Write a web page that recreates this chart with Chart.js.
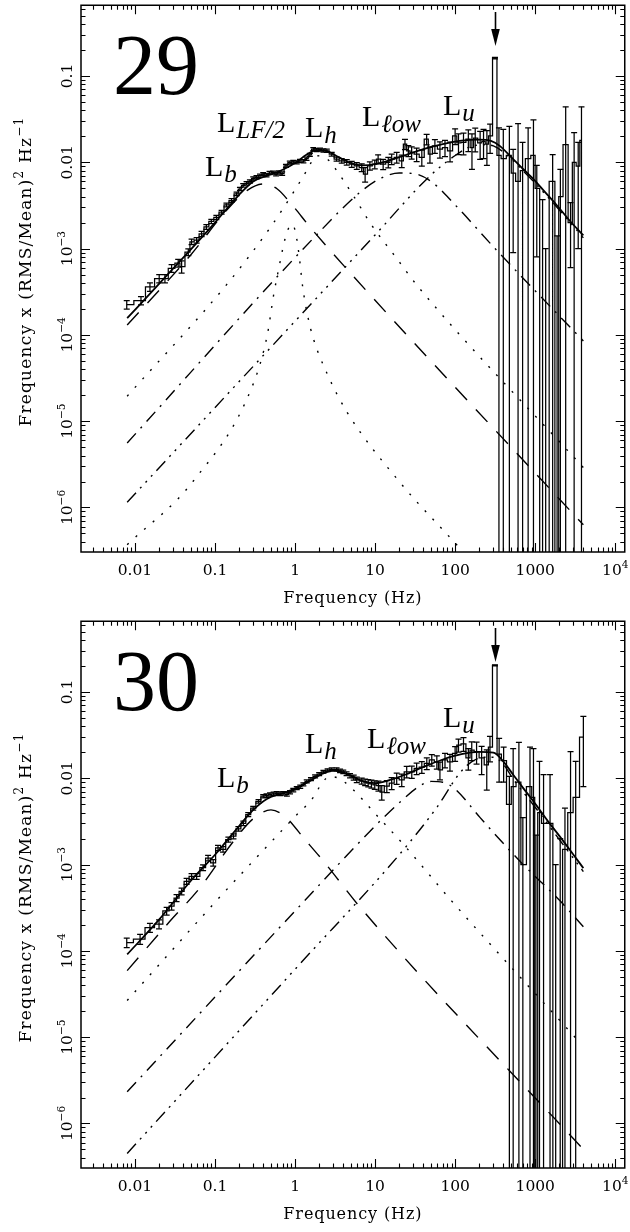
<!DOCTYPE html>
<html>
<head>
<meta charset="utf-8">
<script src="https://cdn.jsdelivr.net/npm/chart.js@4.4.1/dist/chart.umd.min.js"></script>
<style>
  html, body { margin: 0; padding: 0; background: #fff; }
  .panel { position: relative; width: 630px; height: 616px; }
  canvas { display: block; }
</style>
</head>
<body>
<div class="panel"><canvas id="c29" width="630" height="616"></canvas></div>
<div class="panel"><canvas id="c30" width="630" height="616"></canvas></div>
<script>
// ---------------- observation 29 : binned power spectrum ----------------
const freq29 = [
  0.0079, 0.0119, 0.0154, 0.0201, 0.0237, 0.0287, 0.0347, 0.0383, 0.0464, 0.051,
  0.059, 0.068, 0.078, 0.090, 0.104, 0.121, 0.139, 0.161, 0.186, 0.205,
  0.225, 0.248, 0.273, 0.30, 0.33, 0.365, 0.40, 0.44, 0.48, 0.53,
  0.58, 0.63, 0.69, 0.77, 0.86, 0.95, 1.05, 1.15, 1.27, 1.39,
  1.53, 1.69, 1.86, 2.05, 2.26, 2.49, 2.87, 3.3, 3.83, 4.42,
  5.1, 5.9, 6.8, 7.5, 8.6, 9.9, 10.9, 12.6, 14.6, 16.1,
  18.6, 21.5, 23.6, 26, 28.6, 33, 38.3, 44, 48.4, 55.8,
  64.5, 74.6, 86.3, 99.8, 110, 127, 146, 162, 178, 205,
  226, 249, 273, 314, 352, 399, 475, 530, 610, 695,
  815, 950, 1045, 1235, 1350, 1650, 1875, 2060, 2400, 2760,
  3060, 3440, 3780];
const power29 = [
  2.24e-4, 2.5e-4, 3.6e-4, 4.5e-4, 4.5e-4, 5.9e-4, 6.8e-4, 6.2e-4, 9.1e-4, 1.2e-3,
  1.25e-3, 1.48e-3, 1.78e-3, 2.06e-3, 2.3e-3, 2.64e-3, 3.2e-3, 3.6e-3, 4.3e-3, 4.9e-3,
  5.4e-3, 5.7e-3, 6.0e-3, 6.5e-3, 6.7e-3, 7.0e-3, 7.3e-3, 7.1e-3, 7.5e-3, 7.6e-3,
  7.3e-3, 7.6e-3, 7.4e-3, 9.1e-3, 9.9e-3, 1.01e-2, 1.0e-2, 1.04e-2, 1.03e-2, 1.1e-2,
  1.22e-2, 1.42e-2, 1.38e-2, 1.4e-2, 1.37e-2, 1.36e-2, 1.24e-2, 1.09e-2, 1.04e-2, 1.0e-2,
  9.5e-3, 9.1e-3, 8.7e-3, 7.3e-3, 9.1e-3, 9.5e-3, 1.09e-2, 9.5e-3, 1.0e-2, 1.09e-2,
  1.14e-2, 1.04e-2, 1.62e-2, 1.36e-2, 1.3e-2, 1.24e-2, 1.14e-2, 1.85e-2, 1.24e-2, 1.55e-2,
  1.42e-2, 1.48e-2, 1.36e-2, 2.02e-2, 1.68e-2, 1.7e-2, 1.85e-2, 1.48e-2, 1.9e-2, 1.68e-2,
  1.75e-2, 1.62e-2, 2.02e-2, 0.161, 0.012, 0.011, 0.012, 0.0075, 0.006, 0.008,
  0.011, 0.012, 0.005, -0.001, -0.003, 0.006, -0.002, 0.004, 0.016, 0.002,
  0.010, 0.009, 0.018];
const error29 = [
  2.5e-5, 2.8e-5, 4e-5, 5e-5, 5e-5, 6e-5, 7e-5, 1.0e-4, 8e-5, 9e-5,
  9e-5, 1.0e-4, 1.1e-4, 1.2e-4, 1.3e-4, 1.4e-4, 1.6e-4, 1.8e-4, 2.0e-4, 2.2e-4,
  2.4e-4, 2.5e-4, 2.6e-4, 2.8e-4, 2.9e-4, 3.0e-4, 3.1e-4, 3.1e-4, 3.2e-4, 3.2e-4,
  3.2e-4, 3.3e-4, 3.3e-4, 3.8e-4, 4.0e-4, 4.1e-4, 4.1e-4, 4.2e-4, 4.3e-4, 4.5e-4,
  5e-4, 5.5e-4, 5.5e-4, 5.6e-4, 5.6e-4, 5.8e-4, 6e-4, 6e-4, 6.5e-4, 7e-4,
  7.5e-4, 8e-4, 9e-4, 1.4e-3, 1.0e-3, 1.1e-3, 1.3e-3, 1.3e-3, 1.4e-3, 1.5e-3,
  1.6e-3, 1.7e-3, 2.2e-3, 2.0e-3, 2.1e-3, 2.2e-3, 2.4e-3, 2.6e-3, 2.6e-3, 2.8e-3,
  3.0e-3, 3.2e-3, 3.5e-3, 4.2e-3, 4.5e-3, 4.8e-3, 5.2e-3, 6.5e-3, 5.8e-3, 6.0e-3,
  6.5e-3, 7.0e-3, 7.5e-3, 0.003, 0.013, 0.013, 0.014, 0.0066, 0.022, 0.009,
  0.014, 0.019, 0.0042, 0.0047, 0.004, 0.0063, 0.0034, 0.0043, 0.028, 0.0014,
  0.012, 0.008, 0.026];

// fitted model (total) and its Lorentzian components, observation 29
const modelFreq29 = [0.008, 0.02, 0.05, 0.1, 0.2, 0.3, 0.45, 0.7, 1.0, 1.4, 1.9, 2.5, 3.5, 5, 7, 10, 15, 25, 40, 70, 120, 200, 280, 360, 500, 710, 950, 1300, 1850, 2700, 3990];
const modelPow29  = [1.56e-4, 3.9e-4, 9.8e-4, 2.0e-3, 4.2e-3, 6.0e-3, 7.0e-3, 8.2e-3, 9.8e-3, 1.23e-2, 1.38e-2, 1.35e-2, 1.15e-2, 9.8e-3, 9.2e-3, 9.5e-3, 1.05e-2, 1.23e-2, 1.42e-2, 1.62e-2, 1.78e-2, 1.83e-2, 1.77e-2, 1.55e-2, 1.15e-2, 8.3e-3, 6.4e-3, 4.6e-3, 3.2e-3, 2.1e-3, 1.42e-3];
const lbFreq29 = [0.008, 0.05, 0.15, 0.25, 0.4, 0.6, 0.87, 1.6, 7.9, 3990];
const lbPow29  = [1.3e-4, 8.5e-4, 3.0e-3, 4.7e-3, 5.6e-3, 4.9e-3, 3.4e-3, 1.7e-3, 3.2e-4, 6.3e-7];
const lfFreq29 = [0.008, 0.053, 0.30, 0.45, 0.54, 0.65, 0.75, 0.85, 0.93, 1.02, 1.12, 1.25, 1.45, 1.69, 2.5, 4.4, 20, 110, 400];
const lfPow29  = [3.7e-7, 2.0e-6, 2.7e-5, 1.0e-4, 2.9e-4, 7.0e-4, 1.3e-3, 1.8e-3, 1.9e-3, 1.5e-3, 8.5e-4, 3.5e-4, 1.6e-4, 9.1e-5, 3.6e-5, 1.3e-5, 2.0e-6, 3.5e-7, 9e-8];
const lhFreq29 = [0.008, 0.139, 0.5, 1.0, 1.4, 1.87, 2.5, 3.0, 5.35, 8.6, 18.6, 33, 3990];
const lhPow29  = [1.95e-5, 3.8e-4, 1.8e-3, 4.8e-3, 8.0e-3, 1.19e-2, 1.1e-2, 9.1e-3, 4.1e-3, 2.0e-3, 7.7e-4, 3.8e-4, 2.9e-6];
const llFreq29 = [0.008, 1.87, 6.5, 12, 20, 30, 50, 100, 315, 3990];
const llPow29  = [5.6e-6, 1.45e-3, 4.5e-3, 6.6e-3, 7.5e-3, 7.4e-3, 6.0e-3, 3.2e-3, 1.0e-3, 8.5e-5];
const luFreq29 = [0.008, 1, 10, 48, 100, 150, 220, 300, 450, 700, 1000, 2000, 3990];
const luPow29  = [1.15e-6, 1.44e-4, 1.44e-3, 6.9e-3, 1.2e-2, 1.5e-2, 1.6e-2, 1.55e-2, 1.2e-2, 8.0e-3, 5.7e-3, 2.8e-3, 1.33e-3];
const qpoFreq29 = 314;

// ---------------- observation 30 ----------------
const freq30 = [
  0.0079, 0.0116, 0.0154, 0.0200, 0.0249, 0.0287, 0.0331, 0.0383, 0.0442, 0.051,
  0.059, 0.071, 0.082, 0.095, 0.109, 0.126, 0.147, 0.170, 0.196, 0.226,
  0.26, 0.30, 0.35, 0.40, 0.44, 0.487, 0.54, 0.59, 0.65, 0.71,
  0.79, 0.866, 0.95, 1.05, 1.16, 1.27, 1.4, 1.58, 1.78, 2.0,
  2.26, 2.55, 2.87, 3.3, 3.65, 4.0, 4.4, 4.86, 5.4, 5.9,
  6.8, 7.5, 8.2, 9.0, 9.9, 11, 12.1, 14, 16.1, 18.6,
  21.5, 24.8, 28.7, 33, 38.3, 44.2, 51, 59, 64.5, 74.6,
  86, 99.8, 110, 127, 146, 161, 185, 214, 248, 272,
  314, 354, 403, 475, 530, 625, 700, 860, 950, 1020,
  1130, 1270, 1530, 1800, 2050, 2350, 2760, 3200, 3990];
const power30 = [
  1.25e-4, 1.37e-4, 1.86e-4, 2.04e-4, 2.9e-4, 3.3e-4, 4.1e-4, 4.9e-4, 6.4e-4, 7.3e-4,
  7.3e-4, 9.2e-4, 1.19e-3, 1.05e-3, 1.56e-3, 1.5e-3, 1.95e-3, 2.13e-3, 2.6e-3, 3.0e-3,
  3.8e-3, 4.5e-3, 5.4e-3, 6.2e-3, 6.3e-3, 6.5e-3, 6.6e-3, 6.7e-3, 6.6e-3, 6.7e-3,
  6.5e-3, 6.9e-3, 7.3e-3, 7.7e-3, 8.0e-3, 8.5e-3, 9.2e-3, 9.8e-3, 1.05e-2, 1.12e-2,
  1.19e-2, 1.24e-2, 1.27e-2, 1.27e-2, 1.22e-2, 1.19e-2, 1.13e-2, 1.07e-2, 1.02e-2, 9.6e-3,
  9.3e-3, 9.0e-3, 8.8e-3, 8.6e-3, 8.4e-3, 8.2e-3, 6.9e-3, 8.1e-3, 8.8e-3, 1.0e-2,
  9.6e-3, 1.19e-2, 1.19e-2, 1.3e-2, 1.35e-2, 1.49e-2, 1.63e-2, 1.55e-2, 1.25e-2, 1.63e-2,
  1.55e-2, 1.95e-2, 2.43e-2, 2.5e-2, 1.72e-2, 2.12e-2, 2.04e-2, 1.72e-2, 1.43e-2, 2.3e-2,
  0.203, 0.019, 0.016, 0.005, 0.008, 0.009, 0.001, 0.008, 0.006, -0.001,
  0.004, 0.003, 0.003, -0.003, -0.002, 0.0015, 0.004, 0.006, 0.03];
const error30 = [
  1.6e-5, 1.8e-5, 2.2e-5, 2.4e-5, 3.0e-5, 3.3e-5, 3.8e-5, 4.3e-5, 5.2e-5, 5.8e-5,
  5.8e-5, 7e-5, 8.5e-5, 9e-5, 1.1e-4, 1.1e-4, 1.3e-4, 1.4e-4, 1.6e-4, 1.8e-4,
  2.0e-4, 2.3e-4, 2.6e-4, 2.8e-4, 2.8e-4, 2.9e-4, 2.9e-4, 3.0e-4, 3.0e-4, 3.0e-4,
  3.0e-4, 3.1e-4, 3.2e-4, 3.3e-4, 3.4e-4, 3.5e-4, 3.8e-4, 4.0e-4, 4.2e-4, 4.4e-4,
  4.6e-4, 4.8e-4, 5e-4, 5.2e-4, 5.4e-4, 5.6e-4, 5.8e-4, 6e-4, 6.5e-4, 7e-4,
  7.5e-4, 8e-4, 8.5e-4, 9e-4, 9.5e-4, 1.1e-3, 1.3e-3, 1.3e-3, 1.4e-3, 1.5e-3,
  1.6e-3, 1.8e-3, 1.9e-3, 2.0e-3, 2.1e-3, 2.3e-3, 2.5e-3, 2.7e-3, 2.9e-3, 3.1e-3,
  3.4e-3, 3.8e-3, 4.2e-3, 4.5e-3, 4.8e-3, 5.2e-3, 5.8e-3, 6.2e-3, 7.0e-3, 7.5e-3,
  0.003, 0.01, 0.007, 0.0055, 0.014, 0.017, 0.0025, 0.015, 0.016, 0.0032,
  0.0117, 0.008, 0.008, 0.004, 0.004, 0.003, 0.0164, 0.0097, 0.022];

const modelFreq30 = [0.008, 0.02, 0.05, 0.1, 0.2, 0.3, 0.45, 0.7, 1.0, 1.5, 2.2, 3.0, 4.5, 7, 10, 15, 25, 40, 70, 120, 200, 300, 400, 530, 700, 950, 1400, 2000, 3000, 3990];
const modelPow30  = [9.1e-5, 2.3e-4, 6.5e-4, 1.3e-3, 2.8e-3, 4.3e-3, 5.8e-3, 6.7e-3, 7.6e-3, 9.2e-3, 1.13e-2, 1.23e-2, 1.12e-2, 9.3e-3, 8.8e-3, 9.5e-3, 1.12e-2, 1.35e-2, 1.65e-2, 1.9e-2, 2.02e-2, 1.98e-2, 1.56e-2, 1.1e-2, 7.8e-3, 5.4e-3, 3.3e-3, 2.15e-3, 1.3e-3, 9.1e-4];
const lbFreq30 = [0.008, 0.0273, 0.065, 0.17, 0.3, 0.5, 0.75, 1.33, 2.37, 6.5, 3990];
const lbPow30  = [5.9e-5, 2.2e-4, 5.4e-4, 1.86e-3, 3.4e-3, 4.3e-3, 3.6e-3, 1.95e-3, 1.04e-3, 3.2e-4, 5.0e-7];
const lhFreq30 = [0.008, 0.104, 0.3, 1.0, 1.69, 2.2, 2.73, 3.5, 4.86, 10, 24.8, 90, 3600];
const lhPow30  = [2.66e-5, 3.8e-4, 1.1e-3, 3.6e-3, 6.0e-3, 9.0e-3, 1.05e-2, 1.0e-2, 8.0e-3, 3.9e-3, 1.55e-3, 3.8e-4, 8.7e-6];
const llFreq30 = [0.008, 1, 10, 20, 35, 50, 70, 100, 205, 640, 2040, 3990];
const llPow30  = [2.33e-6, 2.9e-4, 2.8e-3, 5.2e-3, 8.0e-3, 9.2e-3, 9.0e-3, 7.5e-3, 3.5e-3, 1.1e-3, 3.8e-4, 1.9e-4];
const luFreq30 = [0.008, 1.155, 20, 60, 110, 160, 230, 300, 400, 530, 950, 2000, 3990];
const luPow30  = [4.5e-7, 7.1e-5, 1.3e-3, 4.7e-3, 1.1e-2, 1.55e-2, 1.75e-2, 1.75e-2, 1.45e-2, 9.8e-3, 4.9e-3, 1.95e-3, 8.3e-4];
const qpoFreq30 = 314;

// axis ranges and tick labels
const X_MIN = 0.00212, X_MAX = 13120;
const Y_MIN = 3.05e-7, Y_MAX = 0.66;
const xTickValues = [0.01, 0.1, 1, 10, 100, 1000, 10000];
const xTickLabels = [['0.01'], ['0.1'], ['1'], ['10'], ['100'], ['1000'], ['10', '4']];
const yTickValues = [0.1, 0.01, 1e-3, 1e-4, 1e-5, 1e-6];
const yTickLabels = [['0.1'], ['0.01'], ['10', '\u22123'], ['10', '\u22124'], ['10', '\u22125'], ['10', '\u22126']];

// ------------------------------------------------------------------
const FLOOR = 1e-9;                       // non-positive powers fall off the log axis
const SERIF = '"Liberation Serif", "Times New Roman", serif';
const AXFONT = '"DejaVu Serif", serif';

const STYLE = {
  dashed: [17, 13],
  dotted: [2, 9.4],
  dashDot: [13, 7, 2, 7],
  dashDot3: [13, 6, 2, 6, 2, 6, 2, 6]
};

function pts(f, p) { return f.map((x, i) => ({ x: x, y: Math.max(p[i], FLOOR) })); }
function errPts(f, p, e) {
  const out = [];
  f.forEach((x, i) => {
    out.push({ x: x, y: Math.max(p[i] - e[i], FLOOR) });
    out.push({ x: x, y: p[i] + e[i] });
    out.push({ x: x, y: null });
  });
  return out;
}

function curveSet(f, p, dash, width) {
  return {
    data: pts(f, p), borderColor: '#000', borderWidth: width, borderDash: dash || [],
    pointRadius: 0, cubicInterpolationMode: 'monotone', fill: false, order: 1
  };
}

function drawRich(ctx, parts, size, align) {
  let w = 0;
  const items = parts.map((t, k) => {
    const s = k === 1 ? size * 0.68 : size;
    ctx.font = s + 'px ' + AXFONT;
    const m = ctx.measureText(t).width;
    w += m;
    return { t: t, s: s, m: m, sup: k === 1 };
  });
  let x = align === 'center' ? -w / 2 : 0;
  items.forEach(it => {
    ctx.font = it.s + 'px ' + AXFONT;
    ctx.fillText(it.t, x, it.sup ? -size * 0.45 : 0);
    x += it.m;
  });
}

const decorations = {
  id: 'decorations',
  afterDraw(chart, args, opts) {
    const { ctx, chartArea: a, scales: { x, y } } = chart;
    ctx.save();
    ctx.strokeStyle = '#000';
    ctx.fillStyle = '#000';
    // frame
    ctx.lineWidth = 1.5;
    ctx.strokeRect(a.left, a.top, a.right - a.left, a.bottom - a.top);
    // inward ticks on all four sides
    ctx.lineWidth = 1.1;
    ctx.beginPath();
    for (let d = -3; d <= 4; d++) {
      for (let m = 1; m <= 9; m++) {
        const v = m * Math.pow(10, d);
        if (v <= X_MIN || v >= X_MAX) continue;
        const px = Math.round(x.getPixelForValue(v)) + 0.5;
        const L = m === 1 ? 9 : 4.5;
        ctx.moveTo(px, a.bottom); ctx.lineTo(px, a.bottom - L);
        ctx.moveTo(px, a.top); ctx.lineTo(px, a.top + L);
      }
    }
    for (let d = -7; d <= 0; d++) {
      for (let m = 1; m <= 9; m++) {
        const v = m * Math.pow(10, d);
        if (v <= Y_MIN || v >= Y_MAX) continue;
        const py = Math.round(y.getPixelForValue(v)) + 0.5;
        const L = m === 1 ? 9 : 4.5;
        ctx.moveTo(a.left, py); ctx.lineTo(a.left + L, py);
        ctx.moveTo(a.right, py); ctx.lineTo(a.right - L, py);
      }
    }
    ctx.stroke();

    // tick labels
    ctx.textBaseline = 'alphabetic';
    xTickValues.forEach((v, i) => {
      ctx.save();
      ctx.translate(x.getPixelForValue(v), a.bottom + 23);
      drawRich(ctx, xTickLabels[i], 15.5, 'center');
      ctx.restore();
    });
    yTickValues.forEach((v, i) => {
      ctx.save();
      ctx.translate(a.left - 9, y.getPixelForValue(v));
      ctx.rotate(-Math.PI / 2);
      drawRich(ctx, yTickLabels[i], 15.5, 'center');
      ctx.restore();
    });

    // axis titles
    ctx.save();
    ctx.letterSpacing = '0.9px';
    ctx.translate((a.left + a.right) / 2, a.bottom + 51);
    ctx.font = '16px ' + AXFONT;
    const xt = 'Frequency (Hz)';
    ctx.fillText(xt, -ctx.measureText(xt).width / 2, 0);
    ctx.restore();

    ctx.save();
    ctx.letterSpacing = '1.2px';
    ctx.translate(31, (a.top + a.bottom) / 2 - 7);
    ctx.rotate(-Math.PI / 2);
    const parts = [['Frequency x (RMS/Mean)', 0], ['2', 1], [' Hz', 0], ['\u22121', 1]];
    let w = 0;
    parts.forEach(p => { ctx.font = (p[1] ? 12 : 17) + 'px ' + AXFONT; w += ctx.measureText(p[0]).width; });
    let cx = -w / 2;
    parts.forEach(p => {
      ctx.font = (p[1] ? 12 : 17) + 'px ' + AXFONT;
      ctx.fillText(p[0], cx, p[1] ? -8 : 0);
      cx += ctx.measureText(p[0]).width;
    });
    ctx.restore();

    // observation number
    ctx.font = '86px ' + SERIF;
    ctx.fillText(opts.tag, 113, 94);

    // component names
    opts.names.forEach(n => {
      ctx.font = '30px ' + SERIF;
      ctx.fillText('L', n.x, n.y);
      const lw = ctx.measureText('L').width;
      ctx.font = 'italic 25px ' + SERIF;
      ctx.fillText(n.sub, n.x + lw + 1, n.y + 6);
    });

    // QPO marker arrow
    const ax = Math.round(x.getPixelForValue(opts.arrow)) + 0.5;
    ctx.lineWidth = 1.6;
    ctx.beginPath();
    ctx.moveTo(ax, 12); ctx.lineTo(ax, 32);
    ctx.stroke();
    ctx.beginPath();
    ctx.moveTo(ax - 4.3, 29); ctx.lineTo(ax + 4.3, 29); ctx.lineTo(ax, 46);
    ctx.closePath();
    ctx.fill();
    ctx.restore();
  }
};

function makeChart(id, d) {
  const datasets = [
    { data: pts(d.freq, d.power), stepped: 'middle', borderColor: '#000', borderWidth: 1.25,
      pointRadius: 0, fill: false, order: 2 },
    { data: errPts(d.freq, d.power, d.error), borderColor: '#000', borderWidth: 1.25, spanGaps: false,
      pointStyle: 'line', pointRadius: 3, pointBorderWidth: 1.25, pointBorderColor: '#000',
      fill: false, order: 2 },
    curveSet(d.modelF, d.modelP, [], 1.8)
  ];
  d.comps.forEach(c => datasets.push(curveSet(c[0], c[1], c[2], 1.4)));
  return new Chart(document.getElementById(id), {
    type: 'line',
    data: { datasets: datasets },
    options: {
      responsive: false, animation: false, devicePixelRatio: 1,
      layout: { padding: { left: 81, right: 5, top: 2, bottom: 64 } },
      plugins: { legend: { display: false }, tooltip: { enabled: false },
                 decorations: { tag: d.tag, names: d.names, arrow: d.arrow } },
      scales: {
        x: { type: 'logarithmic', min: X_MIN, max: X_MAX, display: false },
        y: { type: 'logarithmic', min: Y_MIN, max: Y_MAX, display: false }
      }
    },
    plugins: [decorations]
  });
}

makeChart('c29', {
  tag: '29', arrow: qpoFreq29,
  freq: freq29, power: power29, error: error29,
  modelF: modelFreq29, modelP: modelPow29,
  comps: [
    [lbFreq29, lbPow29, STYLE.dashed],
    [lfFreq29, lfPow29, STYLE.dotted],
    [lhFreq29, lhPow29, STYLE.dotted],
    [llFreq29, llPow29, STYLE.dashDot],
    [luFreq29, luPow29, STYLE.dashDot3]
  ],
  names: [
    { sub: 'b', x: 205, y: 176 },
    { sub: 'LF/2', x: 217, y: 132 },
    { sub: 'h', x: 305, y: 137 },
    { sub: '\u2113ow', x: 362, y: 126 },
    { sub: 'u', x: 443, y: 115 }
  ]
});

makeChart('c30', {
  tag: '30', arrow: qpoFreq30,
  freq: freq30, power: power30, error: error30,
  modelF: modelFreq30, modelP: modelPow30,
  comps: [
    [lbFreq30, lbPow30, STYLE.dashed],
    [lhFreq30, lhPow30, STYLE.dotted],
    [llFreq30, llPow30, STYLE.dashDot],
    [luFreq30, luPow30, STYLE.dashDot3]
  ],
  names: [
    { sub: 'b', x: 217, y: 171 },
    { sub: 'h', x: 305, y: 137 },
    { sub: '\u2113ow', x: 367, y: 132 },
    { sub: 'u', x: 443, y: 111 }
  ]
});
</script>
</body>
</html>
